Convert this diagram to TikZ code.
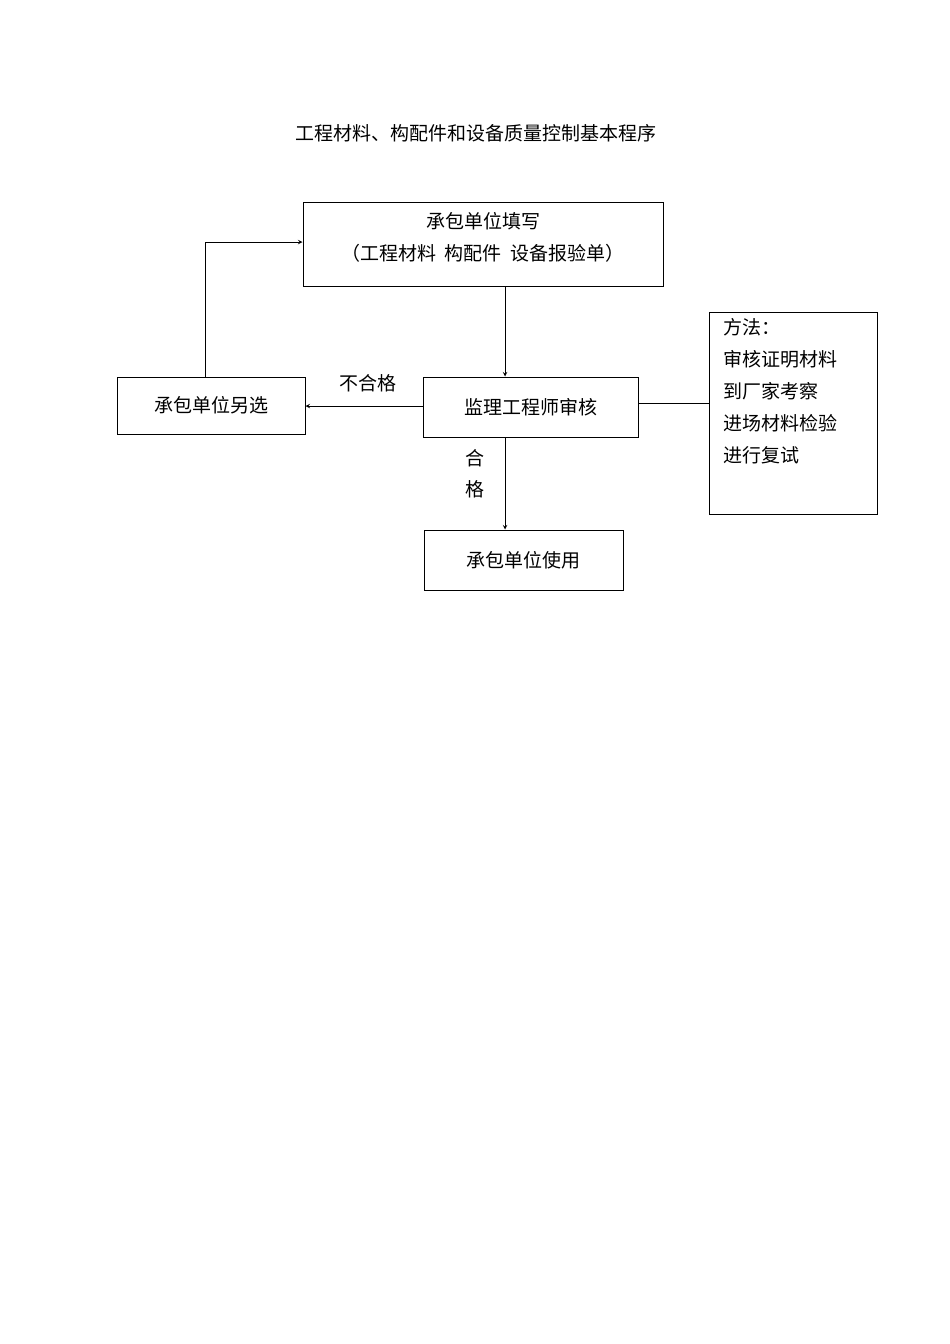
\documentclass[tikz,border=0pt]{standalone}
\usepackage{fontspec}
\setmainfont{Noto Sans CJK SC}
\begin{document}
\begin{tikzpicture}[x=1pt,y=-1pt,font=\fontsize{19}{24}\selectfont,
 box/.style={draw,line width=1pt,inner sep=0pt},
 arr/.style={draw,line width=1pt,-stealth}]
\useasboundingbox[fill=white] (0,0) rectangle (950,1344);
\node at (476,133) {工程材料、构配件和设备质量控制基本程序};
\node[box,minimum width=360,minimum height=84] (top) at (483,244) {};
\node at (483,221) {承包单位填写};
\node at (483,253) {（工程材料\ \ 构配件\ \ 设备报验单）};
\node[box,minimum width=188,minimum height=57] (left) at (211,405.5) {承包单位另选};
\node[box,minimum width=215,minimum height=60] (mid) at (530.5,407) {监理工程师审核};
\node[box,minimum width=199,minimum height=60] (bot) at (523.5,560) {承包单位使用};
\node[box,minimum width=168,minimum height=202] (right) at (793,413) {};
\node[anchor=north west,align=left,inner sep=0pt,font=\fontsize{19}{32}\selectfont] at (723,318) {方法：\\审核证明材料\\到厂家考察\\进场材料检验\\进行复试};
\draw[arr] (top.south -| 505,0) -- (mid.north -| 505,0);
\draw[arr] (mid.west |- 0,406) -- (left.east |- 0,406);
\node at (368,383) {不合格};
\coordinate (c1) at (205,242);
\draw[arr] (left.north -| 205,0) -- (c1) -- (top.west |- c1);
\draw[arr] (mid.south -| 505,0) -- (bot.north -| 505,0);
\node[align=center,font=\fontsize{19}{31}\selectfont] at (475,474) {合\\格};
\draw[line width=1pt] (mid.east |- 0,403) -- (right.west |- 0,403);
\end{tikzpicture}
\end{document}
